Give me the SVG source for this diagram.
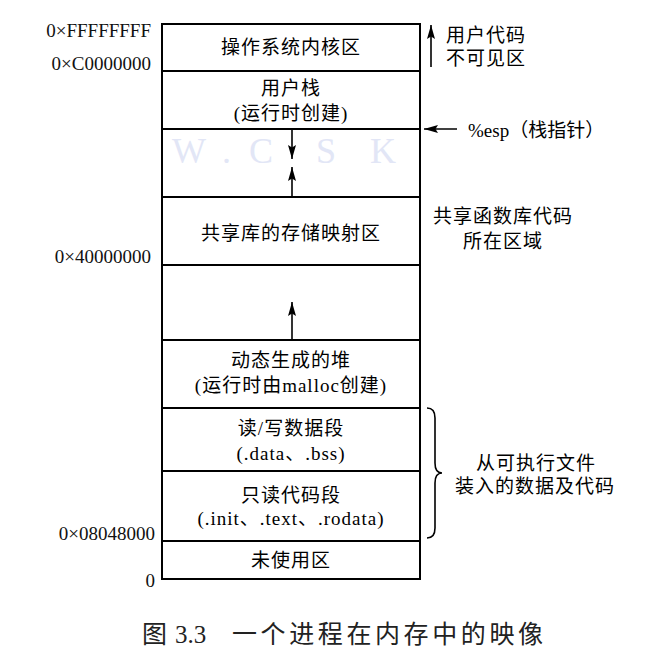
<svg xmlns="http://www.w3.org/2000/svg" width="664" height="670" viewBox="0 0 664 670">
<defs>
<style>
.seg{fill:#fff;stroke:#000;stroke-width:2}
.t{font-family:"Liberation Serif","Noto Sans CJK SC",serif;font-size:19px;fill:#000;letter-spacing:1px}
.c{text-anchor:middle}
.addr{font-family:"Liberation Serif","Noto Sans CJK SC",serif;font-size:19px;fill:#111;text-anchor:end}
.ln{stroke:#000;stroke-width:1.6;fill:none}
.wm{font-family:"Liberation Serif",serif;font-size:36px;fill:#e2e6f6}
.cap{font-family:"Liberation Serif","Noto Sans CJK SC",serif;font-size:25px;fill:#222}
</style>
<marker id="ah" markerUnits="userSpaceOnUse" markerWidth="14" markerHeight="8" viewBox="0 0 14 8" refX="14" refY="4" orient="auto">
<path d="M14,4 L0,0 L2.5,4 L0,8 Z" fill="#000"/>
</marker>
</defs>

<g id="kernel">
<rect class="seg" x="162" y="24" width="258" height="47"/>
<text class="t c" x="291" y="54">操作系统内核区</text>
</g>
<g id="user-stack">
<rect class="seg" x="162" y="71" width="258" height="58"/>
<text class="t c" x="291" y="95">用户栈</text>
<text class="t c" x="291" y="120">(运行时创建)</text>
</g>
<g id="stack-gap">
<rect class="seg" x="162" y="129" width="258" height="68"/>
</g>
<g id="shared-lib">
<rect class="seg" x="162" y="197" width="258" height="68"/>
<text class="t c" x="291" y="240">共享库的存储映射区</text>
</g>
<g id="heap-gap">
<rect class="seg" x="162" y="265" width="258" height="75"/>
</g>
<g id="heap">
<rect class="seg" x="162" y="340" width="258" height="68"/>
<text class="t c" x="291" y="367">动态生成的堆</text>
<text class="t c" x="291" y="392">(运行时由malloc创建)</text>
</g>
<g id="rw-data">
<rect class="seg" x="162" y="408" width="258" height="63"/>
<text class="t c" x="291" y="435">读/写数据段</text>
<text class="t c" x="291" y="460">(.data、.bss)</text>
</g>
<g id="ro-code">
<rect class="seg" x="162" y="471" width="258" height="70"/>
<text class="t c" x="291" y="502">只读代码段</text>
<text class="t c" x="291" y="525">(.init、.text、.rodata)</text>
</g>
<g id="unused">
<rect class="seg" x="162" y="541" width="258" height="38"/>
<text class="t c" x="291" y="567">未使用区</text>
</g>

<g id="watermark">
<text class="wm" x="172" y="163">W</text>
<text class="wm" x="222" y="163">.</text>
<text class="wm" x="249" y="163">C</text>
<text class="wm" x="316" y="163">S</text>
<text class="wm" x="370" y="163">K</text>
</g>

<g id="addresses">
<text class="addr" x="151" y="37">0×FFFFFFFF</text>
<text class="addr" x="151" y="70">0×C0000000</text>
<text class="addr" x="151" y="263">0×40000000</text>
<text class="addr" x="155" y="540">0×08048000</text>
<text class="addr" x="155" y="587">0</text>
</g>

<g id="connectors">
<line class="ln" x1="292" y1="129" x2="292" y2="159" marker-end="url(#ah)"/>
<line class="ln" x1="292" y1="197" x2="292" y2="167" marker-end="url(#ah)"/>
<line class="ln" x1="292" y1="340" x2="292" y2="302" marker-end="url(#ah)"/>
<line class="ln" x1="431" y1="67" x2="431" y2="25" marker-end="url(#ah)"/>
<line class="ln" x1="457" y1="129" x2="424" y2="129" marker-end="url(#ah)"/>
<path class="ln" stroke-width="1.3" d="M427,408 Q435,408 435,418 L435,463 Q435,473 442,473 Q435,473 435,483 L435,528 Q435,538 427,538"/>
</g>

<g id="notes">
<text class="t" x="446" y="42">用户代码</text>
<text class="t" x="446" y="65">不可见区</text>
<text class="t" x="468" y="137" style="letter-spacing:0">%esp（栈指针）</text>
<text class="t" x="433" y="223">共享函数库代码</text>
<text class="t" x="463" y="248">所在区域</text>
<text class="t c" x="536" y="470">从可执行文件</text>
<text class="t c" x="535" y="493">装入的数据及代码</text>
</g>

<g id="caption">
<text class="cap" x="142" y="643">图</text>
<text class="cap" x="175" y="643">3.3</text>
<text class="cap" x="232" y="643" style="letter-spacing:3.6px">一个进程在内存中的映像</text>
</g>
</svg>
